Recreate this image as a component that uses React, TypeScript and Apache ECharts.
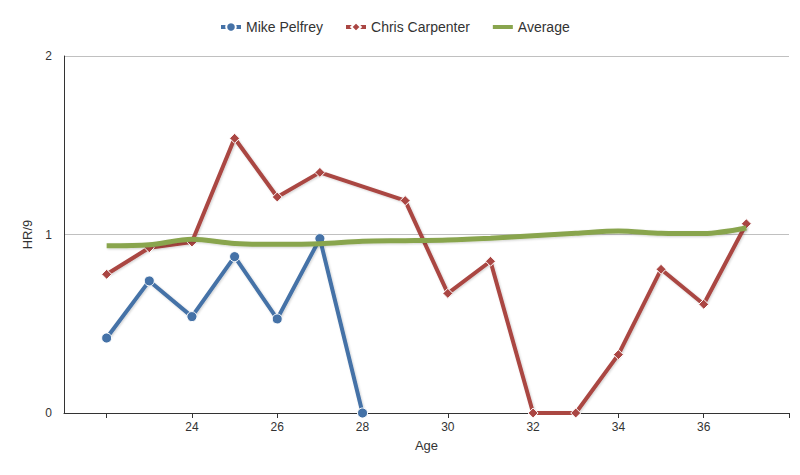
import React, { useEffect, useRef } from "react";
import * as echarts from "echarts";

const ages = [22, 23, 24, 25, 26, 27, 28, 29, 30, 31, 32, 33, 34, 35, 36, 37];
const pelfrey: (number | null)[] = [0.42, 0.74, 0.54, 0.876, 0.527, 0.977, 0, null, null, null, null, null, null, null, null, null];
const carpenter: (number | null)[] = [0.777, 0.926, 0.958, 1.539, 1.21, 1.348, null, 1.19, 0.67, 0.85, 0, 0, 0.327, 0.805, 0.609, 1.06];
const average: number[] = [0.937, 0.943, 0.973, 0.95, 0.945, 0.948, 0.962, 0.965, 0.969, 0.979, 0.993, 1.007, 1.02, 1.007, 1.005, 1.036];
const xTicks = [22, 24, 26, 28, 30, 32, 34, 36, 38];
const xLabels = [24, 26, 28, 30, 32, 34, 36];

const pairs = (vals: (number | null)[]) =>
  ages.map((a, i) => [a, vals[i]] as [number, number | null]).filter((p) => p[1] !== null);

const FONT = "Liberation Sans, Arial, sans-serif";

export default function App() {
  const ref = useRef<HTMLDivElement>(null);
  useEffect(() => {
    const chart = echarts.init(ref.current!, null, { renderer: "svg" });
    const shadow = {
      shadowColor: "rgba(0,0,0,0.18)",
      shadowBlur: 2,
      shadowOffsetX: 1,
      shadowOffsetY: 1,
    };
    chart.setOption({
      animation: false,
      backgroundColor: "#ffffff",
      textStyle: { fontFamily: FONT },
      legend: {
        top: 15,
        left: 214,
        itemGap: 21,
        itemWidth: 20,
        itemHeight: 12,
        textStyle: { fontSize: 14, color: "#333333", fontFamily: FONT },
        data: [
          { name: "Mike Pelfrey", lineStyle: { width: 4 } },
          { name: "Chris Carpenter", lineStyle: { width: 4 } },
          { name: "Average", lineStyle: { width: 4 }, itemStyle: { opacity: 0 } },
        ],
      },
      grid: { left: 64, right: 11, top: 56, bottom: 62, containLabel: false },
      xAxis: {
        type: "value",
        min: 21,
        max: 38,
        name: "Age",
        nameLocation: "middle",
        nameGap: 26,
        nameTextStyle: { fontSize: 13, color: "#333333", fontFamily: FONT },
        axisLine: { show: true, lineStyle: { color: "#333333", width: 1 } },
        axisTick: { show: true, customValues: xTicks, length: 5, lineStyle: { color: "#333333" } },
        axisLabel: { customValues: xLabels, fontSize: 12, color: "#333333", margin: 8, fontFamily: FONT },
        splitLine: { show: false },
      },
      yAxis: {
        type: "value",
        min: 0,
        max: 2,
        interval: 1,
        name: "HR/9",
        nameLocation: "middle",
        nameGap: 30,
        nameRotate: 90,
        nameTextStyle: { fontSize: 13, color: "#333333", fontFamily: FONT },
        axisLine: { show: true, lineStyle: { color: "#333333", width: 1 } },
        axisTick: { show: false },
        axisLabel: { fontSize: 12, color: "#333333", margin: 12, fontFamily: FONT },
        splitLine: { show: true, lineStyle: { color: "#c0c0c0", width: 1 } },
      },
      series: [
        {
          name: "Mike Pelfrey",
          type: "line",
          data: pairs(pelfrey),
          color: "#4572A7",
          symbol: "circle",
          symbolSize: 10,
          showSymbol: true,
          lineStyle: { width: 4, color: "#4572A7", ...shadow },
          itemStyle: { color: "#4572A7", borderColor: "#ffffff", borderWidth: 1 },
          z: 2,
        },
        {
          name: "Chris Carpenter",
          type: "line",
          data: pairs(carpenter),
          color: "#AA4643",
          symbol: "diamond",
          symbolSize: 10,
          showSymbol: true,
          lineStyle: { width: 4, color: "#AA4643", ...shadow },
          itemStyle: { color: "#AA4643", borderColor: "#ffffff", borderWidth: 1 },
          z: 3,
        },
        {
          name: "Average",
          type: "line",
          data: pairs(average),
          color: "#89A54E",
          symbol: "none",
          smooth: 0.3,
          lineStyle: { width: 5, color: "#89A54E", ...shadow },
          itemStyle: { color: "#89A54E" },
          z: 4,
        },
      ],
    });
    return () => chart.dispose();
  }, []);
  return <div ref={ref} style={{ width: 800, height: 475, position: "absolute", left: 0, top: 0 }} />;
}
